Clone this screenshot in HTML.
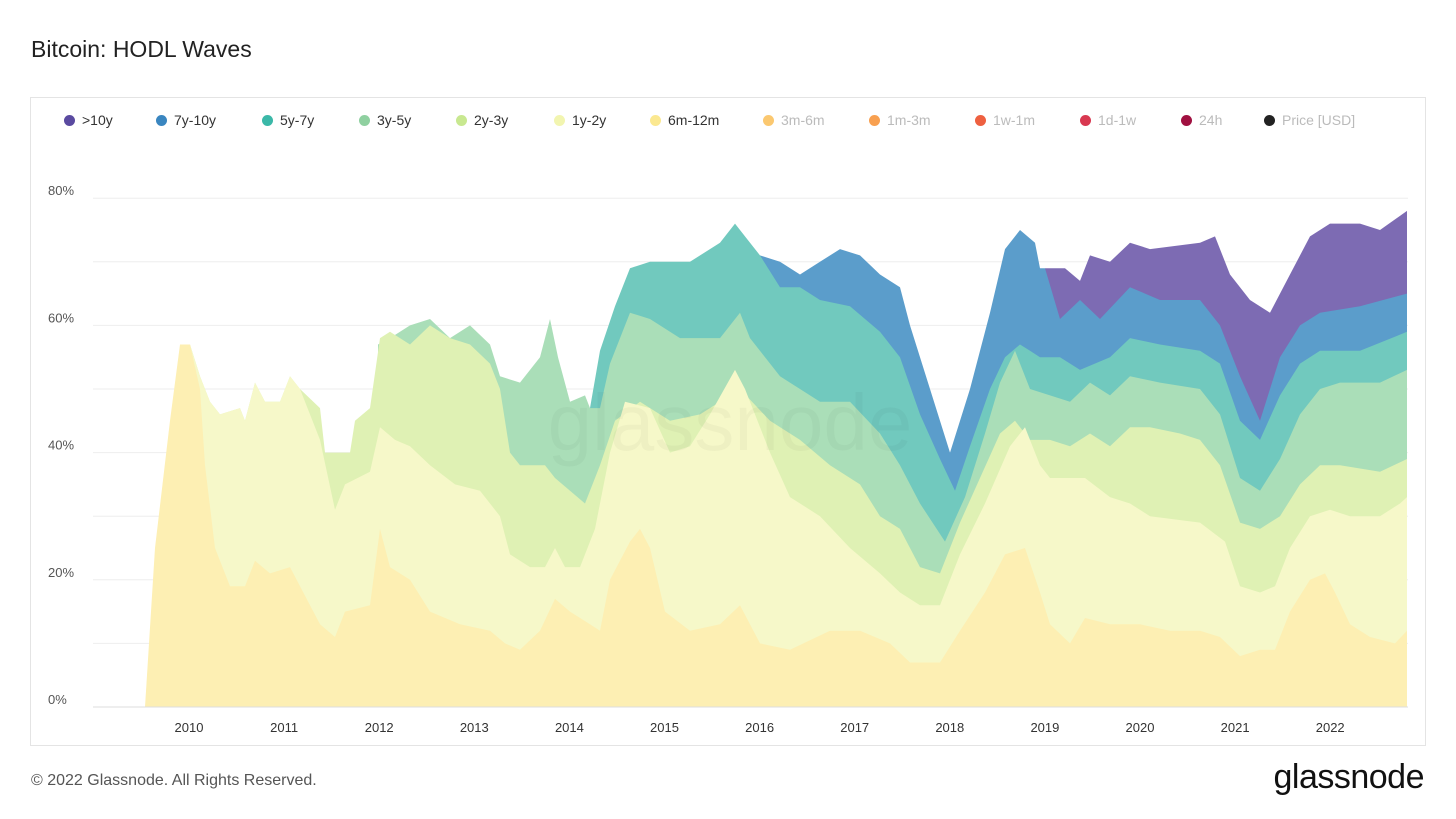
<!DOCTYPE html>
<html><head><meta charset="utf-8"><style>
body{margin:0;width:1456px;height:819px;background:#fff;font-family:"Liberation Sans",sans-serif;position:relative;overflow:hidden}
.t{position:absolute;left:31px;top:36px;font-size:23px;color:#222;font-weight:500}
.box{position:absolute;left:30px;top:97px;width:1394px;height:647px;border:1px solid #e4e4e4}
.lg{position:absolute;top:112px;font-size:14px;color:#333;white-space:nowrap}
.lg i{display:inline-block;width:11px;height:11px;border-radius:50%;margin-right:7px;vertical-align:-1px}
.g{color:#bbb}
.f{position:absolute;left:31px;top:772px;font-size:16px;color:#555}
.logo{position:absolute;right:32px;top:758px;font-size:34px;color:#111;letter-spacing:-0.5px}
</style></head><body>
<div class="t">Bitcoin: HODL Waves</div>
<div class="box"></div>
<div class="lg" style="left:64px"><i style="background:#5a4aa0"></i>&gt;10y</div>
<div class="lg" style="left:156px"><i style="background:#3a86c0"></i>7y-10y</div>
<div class="lg" style="left:262px"><i style="background:#3bb8a8"></i>5y-7y</div>
<div class="lg" style="left:359px"><i style="background:#8fd0a0"></i>3y-5y</div>
<div class="lg" style="left:456px"><i style="background:#c8e890"></i>2y-3y</div>
<div class="lg" style="left:554px"><i style="background:#f2f5b0"></i>1y-2y</div>
<div class="lg" style="left:650px"><i style="background:#fbe890"></i>6m-12m</div>
<div class="lg g" style="left:763px"><i style="background:#fbc870"></i>3m-6m</div>
<div class="lg g" style="left:869px"><i style="background:#f8a050"></i>1m-3m</div>
<div class="lg g" style="left:975px"><i style="background:#ee6040"></i>1w-1m</div>
<div class="lg g" style="left:1080px"><i style="background:#d83850"></i>1d-1w</div>
<div class="lg g" style="left:1181px"><i style="background:#a01040"></i>24h</div>
<div class="lg g" style="left:1264px"><i style="background:#222"></i>Price [USD]</div>
<svg id="s" width="1456" height="819" style="position:absolute;left:0;top:0"></svg>
<div class="f">© 2022 Glassnode. All Rights Reserved.</div>
<div class="logo">glassnode</div>
<script>
const Y=p=>707-p*6.36;
const L=[
["#7d6bb3","1045:69,1065:69,1080:67,1090:71,1110:70,1130:73,1150:72,1200:73,1215:74,1230:68,1250:64,1270:62,1290:68,1310:74,1330:76,1360:76,1380:75,1407:78"],
["#5b9dcb","760:71,780:70,800:68,820:70,840:72,860:71,880:68,900:66,910:60,930:50,950:40,970:50,990:62,1005:72,1020:75,1035:73,1040:69,1045:69,1060:61,1080:64,1100:61,1130:66,1160:64,1200:64,1220:60,1240:52,1260:45,1280:55,1300:60,1320:62,1360:63,1407:65"],
["#71c9be","590:47,600:56,615:63,630:69,650:70,690:70,720:73,735:76,745:74,760:71,780:66,800:66,820:64,850:63,880:59,900:55,920:46,940:39,955:34,970:41,990:50,1005:55,1020:57,1030:56,1040:55,1060:55,1080:53,1110:55,1130:58,1160:57,1200:56,1220:54,1240:45,1260:42,1280:49,1300:54,1320:56,1360:56,1407:59"],
["#aadeb8","378:57,390:58,410:60,430:61,450:58,470:60,490:57,500:52,520:51,540:55,550:61,558:55,570:48,585:49,590:47,600:47,610:54,630:62,650:61,680:58,720:58,740:62,750:58,780:52,800:50,820:48,850:48,880:43,900:38,920:32,945:26,965:33,985:43,1000:51,1015:56,1030:50,1050:49,1070:48,1090:51,1110:49,1130:52,1160:51,1200:50,1220:46,1240:36,1260:34,1280:39,1300:46,1320:50,1340:51,1380:51,1407:53"],
["#dff1b4","190:57,200:52,210:48,220:46,240:47,245:45,255:51,265:48,280:48,290:52,300:50,320:47,325:40,340:40,350:40,355:45,370:47,380:58,390:59,410:57,430:60,450:58,470:57,490:54,500:50,510:40,520:38,530:38,545:38,555:36,570:34,585:32,600:38,615:45,640:48,670:45,700:46,720:48,740:50,770:45,800:42,830:38,860:35,880:30,900:28,920:22,940:21,960:29,980:36,1000:43,1015:45,1030:42,1050:42,1070:41,1090:43,1110:41,1130:44,1150:44,1180:43,1200:42,1220:38,1240:29,1260:28,1280:30,1300:35,1320:38,1340:38,1380:37,1407:39"],
["#f6f8c9","190:57,200:52,210:48,220:46,240:47,245:45,255:51,265:48,280:48,290:52,300:50,320:42,335:31,345:35,370:37,380:44,395:42,410:41,430:38,455:35,480:34,500:30,510:24,530:22,545:22,555:25,565:22,580:22,595:28,610:40,625:48,650:47,670:40,690:41,710:46,735:53,745:50,770:40,790:33,820:30,850:25,880:21,900:18,920:16,940:16,960:24,985:32,1010:41,1025:44,1040:38,1050:36,1070:36,1085:36,1110:33,1130:32,1150:30,1200:29,1225:26,1240:19,1260:18,1275:19,1290:25,1310:30,1330:31,1350:30,1380:30,1400:32,1407:33"],
["#fdefb3","145:0,155:25,170:45,180:57,190:57,200:50,205:38,215:25,230:19,245:19,255:23,270:21,290:22,310:16,320:13,335:11,345:15,370:16,380:28,390:22,410:20,430:15,460:13,490:12,505:10,520:9,540:12,555:17,570:15,590:13,600:12,610:20,630:26,640:28,650:25,665:15,690:12,720:13,740:16,760:10,790:9,830:12,860:12,890:10,910:7,940:7,960:12,985:18,1005:24,1025:25,1040:18,1050:13,1070:10,1085:14,1110:13,1140:13,1170:12,1200:12,1220:11,1240:8,1260:9,1275:9,1290:15,1310:20,1325:21,1335:18,1350:13,1370:11,1395:10,1407:12"]];
let h='';
for(let i=0;i<=8;i++){const y=707-i*63.6;h+=`<line x1="93" x2="1408" y1="${y}" y2="${y}" stroke="#eee"/>`;}
for(const [c,d] of L){const p=d.split(',').map(s=>s.split(':').map(Number));
let s=`M${p[0][0]},707 `+p.map(q=>`L${q[0]},${Y(q[1]).toFixed(1)}`).join(' ')+` L${p[p.length-1][0]},707Z`;
h+=`<path d="${s}" fill="${c}"/>`;}
h+=`<line x1="93" x2="1408" y1="707" y2="707" stroke="#ddd"/>`;
[0,20,40,60,80].forEach(v=>{h+=`<text x="48" y="${Y(v)-3}" font-size="13" fill="#555" font-family="Liberation Sans">${v}%</text>`;});
for(let yr=2010;yr<=2022;yr++){const x=189+(yr-2010)*95.1;h+=`<text x="${x}" y="732" text-anchor="middle" font-size="13" fill="#333" font-family="Liberation Sans">${yr}</text>`;}
h+=`<text x="730" y="450" text-anchor="middle" font-size="80" fill="#000" fill-opacity="0.03" font-family="Liberation Sans">glassnode</text>`;
document.getElementById('s').innerHTML=h;
</script>
</body></html>
